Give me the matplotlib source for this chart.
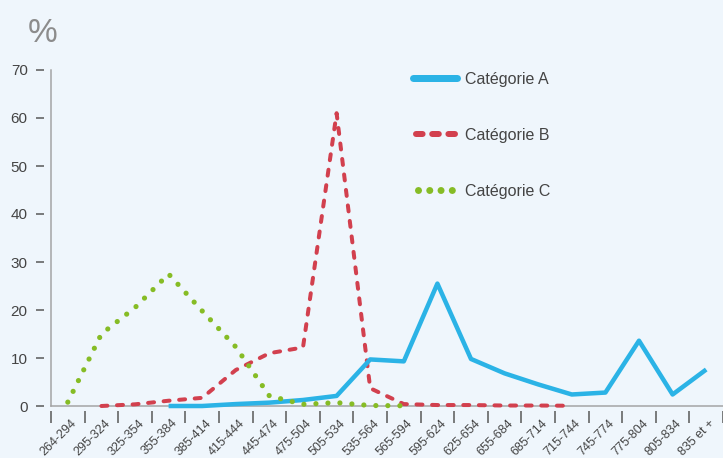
import numpy as np
import matplotlib.pyplot as plt
from matplotlib.lines import Line2D
from matplotlib.transforms import ScaledTranslation

# score bands on the x axis
CATEGORIES = [
    "264-294", "295-324", "325-354", "355-384", "385-414", "415-444",
    "445-474", "475-504", "505-534", "535-564", "565-594", "595-624",
    "625-654", "655-684", "685-714", "715-744", "745-774", "775-804",
    "805-834", "835 et +",
]

# each series starts at a given band
CAT_A_FIRST = "355-384"
CAT_A = [0.0, 0.0, 0.4, 0.7, 1.25, 2.1, 9.7, 9.3, 25.5, 9.8, 6.8, 4.5,
         2.4, 2.8, 13.6, 2.4, 7.6]

CAT_B_FIRST = "295-324"
CAT_B = [0.0, 0.35, 1.1, 1.7, 7.5, 11.0, 12.2, 61.0, 3.7, 0.4, 0.2, 0.2,
         0.1, 0.1, 0.05]

CAT_C_FIRST = "264-294"
CAT_C = [0.8, 15.0, 20.5, 27.5, 19.8, 12.3, 2.1, 0.35, 0.7, 0.1, 0.05]

LABELS = ["Catégorie A", "Catégorie B", "Catégorie C"]
Y_TICKS = list(range(0, 71, 10))

BG = "#eff6fc"
BLUE = "#2bb3e6"
RED = "#d2404e"
GREEN = "#86bc25"
AXIS_GREY = "#a3a3a3"
TICK_GREY = "#555555"
TEXT = "#444444"

PX = 0.72  # points per pixel at dpi 100

plt.rcParams["font.family"] = ["Liberation Sans", "DejaVu Sans"]


def series_x(first_label, values):
    start = CATEGORIES.index(first_label)
    return np.arange(start, start + len(values))


fig = plt.figure(figsize=(7.23, 4.58), dpi=100, facecolor=BG)
ax = fig.add_axes([51 / 723, 52 / 458, 672 / 723, 336 / 458])
ax.set_facecolor(BG)

ax.plot(series_x(CAT_B_FIRST, CAT_B), CAT_B, color=RED, lw=4 * PX,
        linestyle=(0, (1.5, 2.4)), dash_capstyle="round", clip_on=False,
        zorder=3)
ax.plot(series_x(CAT_A_FIRST, CAT_A), CAT_A, color=BLUE, lw=4.5 * PX,
        solid_capstyle="butt", clip_on=False, zorder=4)
ax.plot(series_x(CAT_C_FIRST, CAT_C), CAT_C, color=GREEN, lw=5.2 * PX,
        linestyle=(0, (0.01, 2.3)), dash_capstyle="round", clip_on=False,
        zorder=5)

ax.set_xlim(-0.5, 19.32)
ax.set_ylim(0, 70)

# visible axis lines, the real spines carry the detached ticks
ax.spines["left"].set_position(("outward", 7 * PX))
ax.spines["left"].set_color("none")
ax.spines["bottom"].set_position(("outward", 5 * PX))
ax.spines["bottom"].set_color("none")
ax.spines["top"].set_position(("data", 0))
ax.spines["top"].set_color(AXIS_GREY)
ax.spines["top"].set_linewidth(1.5 * PX)
ax.spines["right"].set_position(("axes", 0))
ax.spines["right"].set_bounds(0, 70)
ax.spines["right"].set_color(AXIS_GREY)
ax.spines["right"].set_linewidth(1.5 * PX)
ax.xaxis.set_ticks_position("bottom")
ax.yaxis.set_ticks_position("left")

ax.set_yticks(Y_TICKS)
ax.tick_params(axis="y", length=8 * PX, width=1.5 * PX, color=TICK_GREY,
               pad=6, labelsize=11, labelcolor=TEXT)

ax.set_xticks(np.arange(-0.5, len(CATEGORIES), 1))
ax.set_xticklabels([])
ax.tick_params(axis="x", which="major", length=12 * PX, width=1.5 * PX,
               color=TICK_GREY)
ax.set_xticks(np.arange(len(CATEGORIES)), CATEGORIES, minor=True)
ax.tick_params(axis="x", which="minor", length=0, pad=6 * PX, labelsize=9,
               labelcolor=TEXT)
shift = ScaledTranslation(3 / 100, 0, fig.dpi_scale_trans)
for lab in ax.get_xticklabels(minor=True):
    lab.set_rotation(45)
    lab.set_rotation_mode("anchor")
    lab.set_ha("right")
    lab.set_va("top")
    lab.set_transform(lab.get_transform() + shift)

handles = [
    Line2D([], [], color=BLUE, lw=7 * PX, solid_capstyle="round"),
    Line2D([], [], color=RED, lw=6 * PX, linestyle=(2.2, (1.1, 1.6)),
           dash_capstyle="round"),
    Line2D([], [], color=GREEN, lw=7 * PX, linestyle=(0.9, (0.01, 1.6)),
           dash_capstyle="round"),
]
ax.legend(handles, LABELS, loc="upper left", bbox_to_anchor=(0.5387, 0.995),
          frameon=False, fontsize=11.5, handlelength=2.75, handletextpad=0.5,
          labelspacing=2.57, borderpad=0, borderaxespad=0, labelcolor=TEXT)

fig.text(43 / 723, 1 - 42 / 458, "%", fontsize=24, color="#8c8c8c",
         ha="center", va="baseline")

fig.savefig("out.png", dpi=100, facecolor=BG)
